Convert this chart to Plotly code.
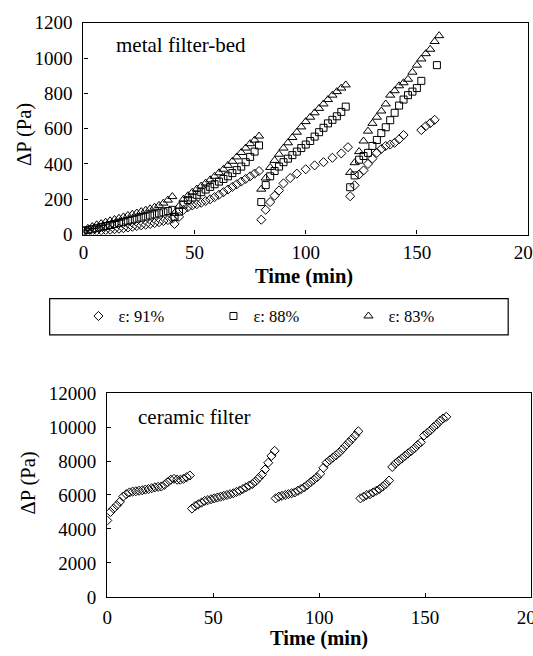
import plotly.graph_objects as go

# reference frame is 533 x 656 px; the figure is laid out slightly larger
# because the captured page is rescaled to the window size
REF_W, REF_H = 533, 656
FW, FH = 548, 667

# ---------------- metal filter-bed data ----------------
t91 = [0, 2, 4, 6, 8, 10, 12, 14, 16, 18, 20, 22, 24, 26, 28, 30, 32, 34, 36, 38, 40,
       41, 43, 45, 47, 49, 51, 53, 55, 57, 59, 61, 63, 65, 67, 69, 71, 73, 75, 77, 79,
       80, 82, 84, 86, 88, 90, 93, 96, 100, 104, 108, 112, 116, 119,
       120, 122, 124, 126, 128, 130, 132, 134, 136, 138, 140, 142, 144, 152, 154, 156, 158]
p91 = [15, 17, 19, 21, 23, 25, 27, 30, 33, 36, 40, 44, 48, 52, 56, 60, 65, 70, 76, 82, 90,
       60, 100, 140, 155, 165, 172, 180, 190, 200, 212, 225, 240, 255, 270, 285, 300, 315, 330, 345, 360,
       84, 140, 184, 220, 250, 290, 320, 345, 370, 392, 410, 435, 460, 495,
       217, 279, 340, 363, 400, 430, 463, 485, 502, 510, 520, 540, 564, 592, 614, 631, 650]

t88 = [0, 2, 4, 6, 8, 10, 12, 14, 16, 18, 20, 22, 24, 26, 28, 30, 32, 34, 36, 38, 40,
       41, 43, 45, 47, 49, 51, 53, 55, 57, 59, 61, 63, 65, 67, 69, 71, 73, 75, 77, 79,
       80, 82, 84, 86, 88, 90, 92, 94, 96, 98, 100, 102, 104, 106, 108, 110, 112, 114, 116, 118,
       120, 122, 124, 126, 128, 130, 132, 134, 136, 138, 140, 142, 144, 146, 148, 150, 152, 159]
p88 = [20, 25, 30, 36, 42, 48, 54, 60, 66, 72, 78, 84, 90, 96, 102, 108, 114, 120, 126, 133, 140,
       100, 130, 170, 195, 210, 225, 240, 255, 270, 285, 300, 315, 330, 348, 365, 385, 410, 440, 470, 505,
       184, 280, 330, 360, 385, 410, 430, 450, 470, 490, 510, 530, 555, 580, 605, 630, 650, 670, 695, 725,
       268, 335, 424, 445, 463, 502, 536, 575, 608, 648, 690, 731, 765, 790, 810, 830, 871, 960]

t83 = [0, 2, 4, 6, 8, 10, 12, 14, 16, 18, 20, 22, 24, 26, 28, 30, 32, 34, 36, 38, 40,
       41, 43, 45, 47, 49, 51, 53, 55, 57, 59, 61, 63, 65, 67, 69, 71, 73, 75, 77, 79,
       80, 82, 84, 86, 88, 90, 92, 94, 96, 98, 100, 102, 104, 106, 108, 110, 112, 114, 116, 118,
       120, 122, 124, 126, 128, 130, 132, 134, 136, 138, 140, 142, 144, 146, 148, 150, 152, 154, 156, 158, 160]
p83 = [25, 35, 45, 55, 62, 70, 78, 85, 92, 100, 108, 115, 122, 130, 138, 146, 155, 165, 178, 195, 215,
       120, 160, 200, 220, 240, 258, 275, 292, 310, 330, 350, 370, 392, 415, 440, 465, 490, 515, 535, 558,
       257, 320, 380, 420, 455, 490, 520, 550, 580, 610, 640, 665, 690, 715, 740, 765, 790, 810, 830, 848,
       352, 407, 470, 530, 586, 630, 665, 700, 740, 790, 815, 843, 860, 880, 920, 960, 995, 1025, 1050, 1094, 1127]

# ---------------- ceramic filter data ----------------
tc = [0, 1.5, 3, 4.5, 6, 7.5, 9, 10.5, 12, 13.5, 15, 16.5, 18, 19.5, 21, 22.5, 24, 25.5, 27, 28.5, 30, 31.5, 33, 34.5, 36, 37.5, 39,
      40, 41.5, 43, 44.5, 46, 47.5, 49, 50.5, 52, 53.5, 55, 56.5, 58, 59.5, 61, 62.5, 64, 65.5, 67, 68.5, 70, 71.5, 73, 74.5, 76, 77.5, 79,
      79.5, 81, 82.5, 84, 85.5, 87, 88.5, 90, 91.5, 93, 94.5, 96, 97.5, 99, 100.5, 102, 103.5, 105, 106.5, 108, 109.5, 111, 112.5, 114, 115.5, 117, 118.5,
      119.5, 121, 122.5, 124, 125.5, 127, 128.5, 130, 131.5, 133, 134.5, 136, 137.5, 139, 140.5, 142, 143.5, 145, 146.5, 148, 149.5, 151, 152.5, 154, 155.5, 157, 158.5, 160]
pc = [4500, 5000, 5200, 5400, 5600, 5900, 6050, 6150, 6200, 6220, 6250, 6280, 6320, 6350, 6400, 6450, 6480, 6500, 6600, 6750, 6900, 6950, 6900, 6900, 6950, 7050, 7150,
      5200, 5350, 5450, 5550, 5650, 5700, 5750, 5800, 5850, 5900, 5950, 6000, 6050, 6100, 6180, 6250, 6350, 6450, 6550, 6650, 6800, 7000, 7200, 7500, 7900, 8300, 8600,
      5800, 5900, 5950, 6000, 6050, 6100, 6150, 6250, 6350, 6450, 6600, 6750, 6900, 7050, 7250, 7600, 7900, 8050, 8200, 8350, 8500, 8700, 8900, 9100, 9300, 9500, 9750,
      5800, 5900, 6000, 6050, 6150, 6250, 6350, 6500, 6650, 6850, 7650, 7850, 8000, 8150, 8300, 8450, 8600, 8750, 8950, 9100, 9500, 9650, 9800, 10000, 10150, 10350, 10500, 10600]

series_names = ["ε: 91%", "ε: 88%", "ε: 83%"]
x_ticks = [0, 50, 100, 150, 200]

FONT = "Liberation Serif, Times New Roman, serif"
px = lambda v: v / REF_W
py = lambda v: 1 - v / REF_H
clamp = lambda v: max(0.0, min(1.0, v))

fig = go.Figure()

def mk(symbol, size):
    return dict(symbol=symbol, size=size, color="black",
                line=dict(color="black", width=1))

fig.add_trace(go.Scatter(x=t91, y=p91, mode="markers", name=series_names[0],
                         marker=mk("diamond-open", 7), xaxis="x", yaxis="y"))
fig.add_trace(go.Scatter(x=t88, y=p88, mode="markers", name=series_names[1],
                         marker=mk("square-open", 7), xaxis="x", yaxis="y"))
fig.add_trace(go.Scatter(x=t83, y=p83, mode="markers", name=series_names[2],
                         marker=mk("triangle-up-open", 8), xaxis="x", yaxis="y"))
fig.add_trace(go.Scatter(x=tc, y=pc, mode="markers", showlegend=False,
                         marker=mk("diamond-open", 7), xaxis="x2", yaxis="y2"))

axis_common = dict(showline=True, mirror=True, linecolor="black", linewidth=1.3,
                   ticks="inside", ticklen=4, tickcolor="black", showgrid=False,
                   zeroline=False, ticklabeloverflow="allow", tickformat="d",
                   tickfont=dict(family=FONT, size=19, color="black"))

fig.update_layout(
    width=FW, height=FH, autosize=False,
    margin=dict(l=0, r=0, t=0, b=0),
    paper_bgcolor="white", plot_bgcolor="white",
    font=dict(family=FONT, color="black"),
    xaxis=dict(domain=[clamp(px(79)), clamp(px(527))], range=[0, 200], tickvals=x_ticks,
               anchor="y", ticklabelstandoff=1, **axis_common),
    yaxis=dict(domain=[clamp(py(228)), clamp(py(13))], range=[0, 1200], dtick=200,
               anchor="x", ticklabelstandoff=6, **axis_common),
    xaxis2=dict(domain=[clamp(px(103)), clamp(px(530))], range=[0, 200], tickvals=x_ticks,
                anchor="y2", ticklabelstandoff=3, **axis_common),
    yaxis2=dict(domain=[clamp(py(596)), clamp(py(389))], range=[0, 12000], dtick=2000,
                anchor="x2", ticklabelstandoff=6, **axis_common),
    legend=dict(orientation="h", x=px(74), xanchor="left", y=py(311), yanchor="middle",
                entrywidth=90, entrywidthmode="pixels", bgcolor="rgba(0,0,0,0)",
                font=dict(family=FONT, size=16.5, color="black")),
    showlegend=True,
)

fig.add_shape(type="rect", xref="paper", yref="paper",
              x0=px(45), x1=px(507), y0=py(330), y1=py(293),
              line=dict(color="black", width=1.2))

def ann(text, x, y, size=18, angle=0, xanchor="center", bold=False):
    fig.add_annotation(text=f"<b>{text}</b>" if bold else text, x=x, y=y,
                       xref="paper", yref="paper", showarrow=False, textangle=angle,
                       xanchor=xanchor, yanchor="middle",
                       font=dict(family=FONT, size=size, color="black"))

ann("ΔP (Pa)", px(19), py(126), size=20.5, angle=-90)
ann("Time (min)", px(301), py(271), size=20.5, bold=True)
ann("ΔP (Pa)", px(24), py(480), size=20.5, angle=-90)
ann("Time (min)", px(316), py(638), size=20.5, bold=True)
ann("metal filter-bed", px(110), py(36), size=21, xanchor="left")
ann("ceramic filter", px(132), py(413), size=21, xanchor="left")

fig.write_html("out.html", config={"responsive": False})
